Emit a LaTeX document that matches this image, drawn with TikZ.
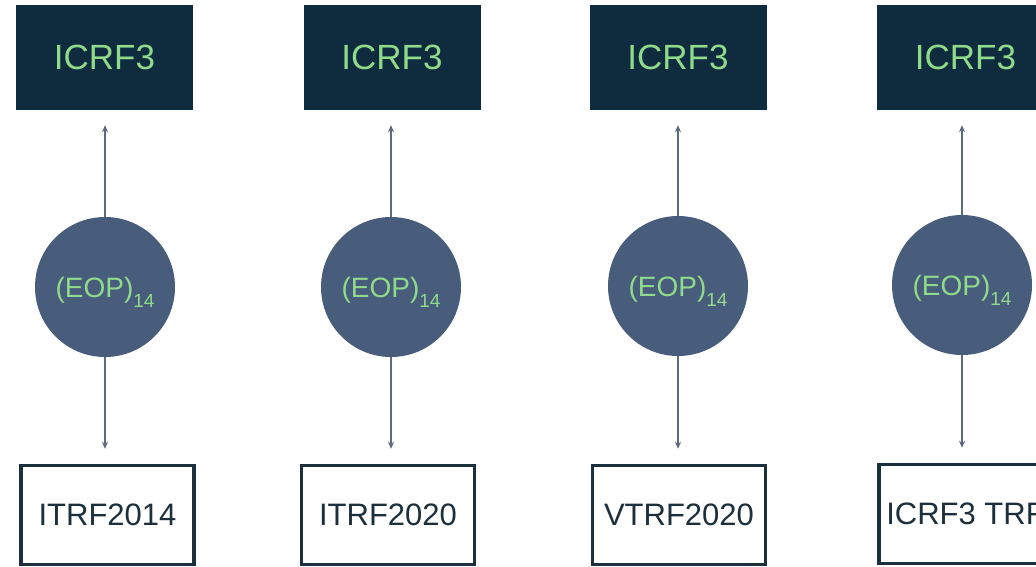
\documentclass[tikz,border=0pt]{standalone}
\usepackage{fontspec}
\setmainfont{Liberation Sans}
\usetikzlibrary{arrows.meta}
\definecolor{navy}{HTML}{0F2C3E}
\definecolor{lgreen}{HTML}{8FDB8B}
\definecolor{disc}{HTML}{485C7C}
\definecolor{arrowc}{HTML}{5D6A7E}
\definecolor{boxline}{HTML}{1C2F3D}
\newcommand{\eoptext}{(EOP)\smash{\raisebox{-10pt}{\fontsize{19}{22}\selectfont 14}}}
\begin{document}
\begin{tikzpicture}[x=1pt,y=-1pt,
  topbox/.style={fill=navy, draw=none, minimum width=177pt, minimum height=105pt, inner sep=0pt,
    text=lgreen, font=\fontsize{35}{40}\selectfont},
  eop/.style={circle, fill=disc, draw=none, minimum size=140pt, inner sep=0pt,
    text=lgreen, font=\fontsize{28}{32}\selectfont, text height=20pt, text depth=0pt},
  botbox/.style={draw=boxline, line width=3.5pt, fill=white, minimum width=173pt, minimum height=99pt,
    inner sep=0pt, text=boxline, font=\fontsize{31}{36}\selectfont},
  conn/.style={draw=arrowc, line width=1.3pt, -{Stealth[length=7pt,width=6pt]}}
]
\useasboundingbox (0,0) rectangle (1036,566);
\clip (0,0) rectangle (1036,566);
\fill[white] (0,0) rectangle (1036,566);

% column 1
\node[topbox] (t1) at (104.5,57.5) {ICRF3};
\node[eop] (c1) at (105,287) {\eoptext};
\node[botbox] (b1) at (107.5,515) {ITRF2014};
% column 2
\node[topbox] (t2) at (392,57.5) {ICRF3};
\node[eop] (c2) at (391,287) {\eoptext};
\node[botbox] (b2) at (388,515) {ITRF2020};
% column 3
\node[topbox] (t3) at (678,57.5) {ICRF3};
\node[eop] (c3) at (678,286) {\eoptext};
\node[botbox] (b3) at (679,515) {VTRF2020};
% column 4
\node[topbox] (t4) at (965.5,57.5) {ICRF3};
\node[eop] (c4) at (962,285) {\eoptext};
\node[botbox] (b4) at (965.5,514) {ICRF3 TRF};

\foreach \i in {1,2,3,4}{
  \draw[conn, shorten >=15pt] (c\i.north) -- (c\i.north |- t\i.south);
  \draw[conn, shorten >=15pt] (c\i.south) -- (c\i.south |- b\i.north);
}
\end{tikzpicture}
\end{document}
